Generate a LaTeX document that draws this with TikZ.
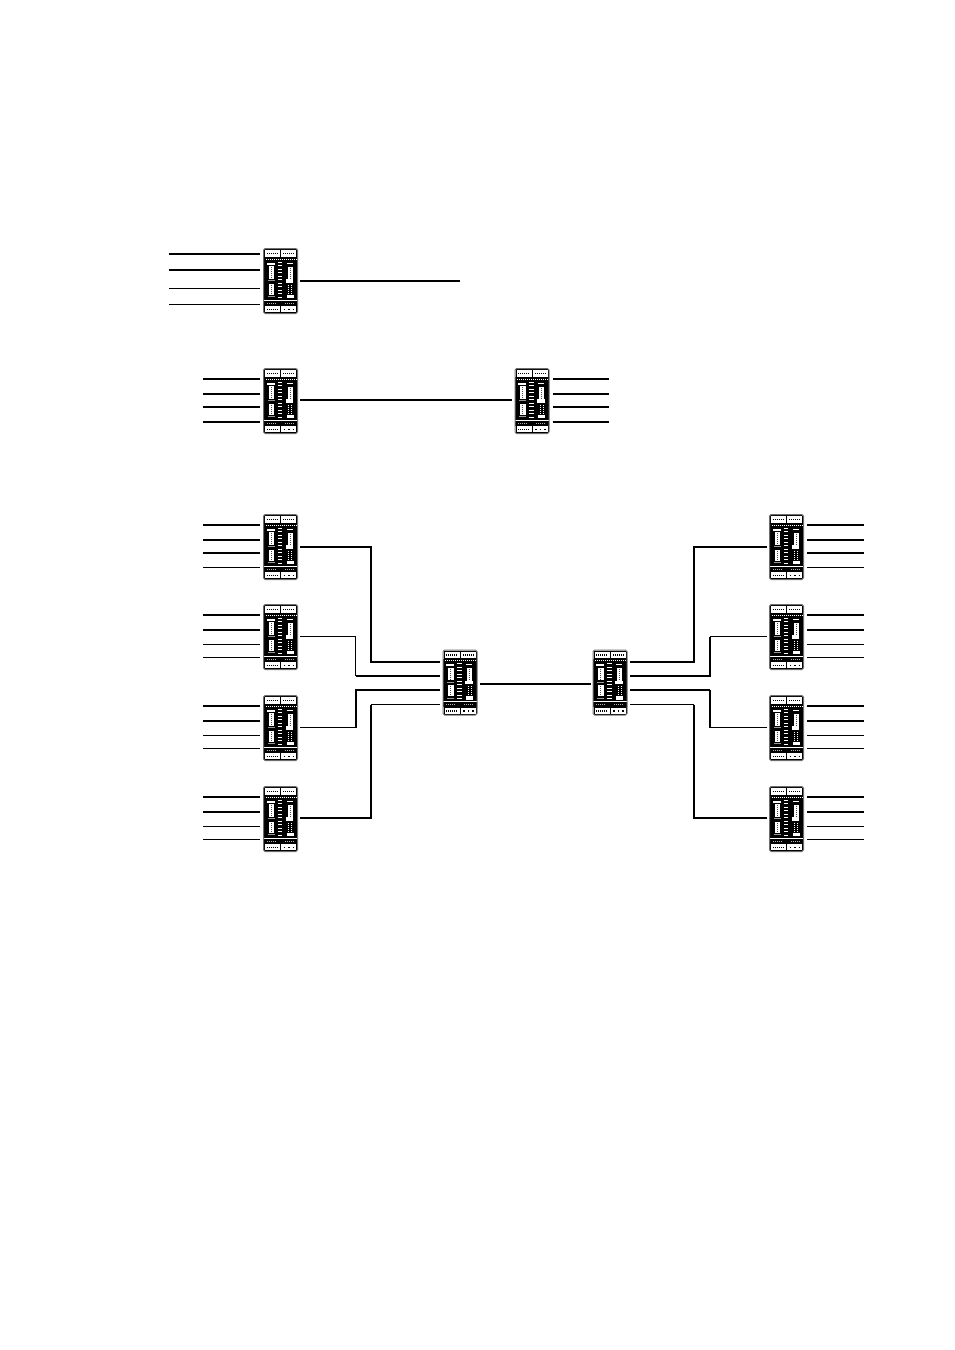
\documentclass[tikz,border=0pt]{standalone}
\usetikzlibrary{positioning,calc}
\definecolor{unitGray}{RGB}{110,110,110}
\tikzset{
    wire/.style={line width=2pt, color=black, line join=miter},
    fine/.style={line width=1.1pt, color=black, line join=miter},
    gapped/.style={shorten <=2.5pt},
    dots/.style={line width=1pt, dash pattern=on 1pt off 1pt},
    plate/.style={draw=black, line width=.7pt, fill=white},
    unitface/.pic={
      \begin{scope}[sharp corners]
      % top and bottom label plates
      \fill[black] (0,8.5) rectangle (35,51);
      \fill[black] (0,52) rectangle (35,57);
      \path[plate] (1,1) rectangle (17,8.5);
      \path[plate] (17,1) rectangle (33,8.5);
      \path[plate] (1,57) rectangle (17,64);
      \path[plate] (17,57) rectangle (33,64);
      \draw[dots,black,line width=1.4pt] (3,5) -- (15,5);
      \draw[dots,black,line width=1.4pt] (19.5,5) -- (31.5,5);
      \draw[dots,black,line width=1.8pt] (3,61) -- (15,61);
      \draw[dots,black,line width=1.8pt,dash pattern=on 1.5pt off 3pt] (20,61) -- (32,61);
      \draw[dots,white] (2,10.5) -- (33,10.5);
      \draw[dots,white!70!black] (3,54.5) -- (13,54.5);
      \draw[dots,white!70!black] (21,54.5) -- (31,54.5);
      % left connectors
      \fill[white] (3,14) rectangle (11,16);
      \fill[white] (5,17.5) rectangle (10.5,30);
      \fill[white] (5,35) rectangle (10.5,46);
      \draw[dots,black!70] (7.7,18.5) -- (7.7,29.5);
      \draw[dots,black!70] (7.7,36) -- (7.7,45.5);
      \fill[white!60!black] (4,31.5) rectangle (11,32.5);
      \fill[white!60!black] (4,47.5) rectangle (11,48.5);
      % status lamps
      \foreach \l in {13,16.5,...,48}
        \fill[white] (14,\l) rectangle (18.5,\l+1);
      % right connectors
      \fill[white] (23,14) rectangle (29,15);
      \fill[white] (24,18) rectangle (29,30.5);
      \draw[dots,black!70] (26.5,19) -- (26.5,30);
      \fill[white] (22,30.5) rectangle (29.5,34);
      \draw[dots,white] (25,36) -- (25,45);
      \draw[dots,white] (28,36) -- (28,45);
      \fill[white] (23,46) rectangle (30,49.5);
      \end{scope}
    },
    unit/.style={rectangle, rounded corners=1.5pt, draw=unitGray, line width=1pt,
                 fill=white, inner sep=0pt, outer sep=0pt,
                 minimum width=34pt, minimum height=65pt,
                 path picture={
                   \pic at (path picture bounding box.north west) {unitface};
                 }}
}
\begin{document}
\begin{tikzpicture}[x=1pt,y=-1pt]
  \useasboundingbox (0,0) rectangle (954,1350);

  % Single unit
  \node[unit] (s1) at (280.5,281) {};
  \coordinate (s1end) at (460,281);

  % Point to point
  \node[unit, below=55pt of s1] (p1) {};
  \node[unit, right=217.5pt of p1] (p2) {};

  % Left column
  \node[unit, below=81pt of p1] (a1) {};
  \node[unit, below=25pt of a1] (a2) {};
  \node[unit, below=26pt of a2] (a3) {};
  \node[unit, below=26pt of a3] (a4) {};

  % Right column
  \node[unit, right=472pt of a1] (b1) {};
  \node[unit, below=25pt of b1] (b2) {};
  \node[unit, below=26pt of b2] (b3) {};
  \node[unit, below=26pt of b3] (b4) {};

  % Centre pair
  \node[unit] (c1) at (460,682.5) {};
  \node[unit, right=116pt of c1] (c2) {};

  % Input lines
  \foreach \n/\dy/\kind in {1/5.5/wire,2/21.5/wire,3/40/fine,4/56/fine}{
    \coordinate (s1s\n) at ($(s1.north west)+(-94.5,\dy)$);
    \draw[\kind,shorten <=3.5pt] ($(s1.north west)+(0,\dy)$) -- (s1s\n);
  }
  \foreach \u/\t/\f/\d in {p1/wire/wire/38.5,a1/wire/fine/38.5,a2/fine/fine/40,a3/fine/fine/40,a4/fine/fine/40}{
    \foreach \n/\dy/\kind in {1/10.5/wire,2/25.5/wire,3/\d/\t,4/53/\f}{
      \coordinate (\u s\n) at ($(\u.north west)+(-60.5,\dy)$);
      \draw[\kind,shorten <=3.5pt] ($(\u.north west)+(0,\dy)$) -- (\u s\n);
    }
  }
  \foreach \u/\t/\f/\d in {p2/wire/wire/38.5,b1/wire/fine/38.5,b2/fine/fine/40,b3/fine/fine/40,b4/fine/fine/40}{
    \foreach \n/\dy/\kind in {1/10.5/wire,2/25.5/wire,3/\d/\t,4/53/\f}{
      \coordinate (\u s\n) at ($(\u.north east)+(60,\dy)$);
      \draw[\kind,shorten <=3.5pt] ($(\u.north east)+(0,\dy)$) -- (\u s\n);
    }
  }

  % Trunk lines
  \draw[wire,gapped] (s1.east) -- (s1end);
  \draw[wire,gapped,shorten >=3pt] ($(p1.east)+(0,-1)$) -- ($(p2.west)+(0,-1)$);
  \draw[wire,gapped,shorten >=2.5pt] ($(c1.east)+(0,1.5)$) -- ($(c2.west)+(0,1.5)$);

  % Ports of the centre pair
  \foreach \n/\dy in {1/12,2/26,3/40,4/54.5}{
    \coordinate (c1p\n) at ($(c1.north west)+(-3,\dy)$);
    \coordinate (c2p\n) at ($(c2.north east)+(3,\dy)$);
  }
  \coordinate (lo) at (371,0);
  \coordinate (li) at (355.5,0);
  \coordinate (ro) at (694,0);
  \coordinate (ri) at (710,0);
  \coordinate (a2e) at ($(a2.east)+(0,-0.5)$);
  \coordinate (a3e) at ($(a3.east)+(0,-0.5)$);
  \coordinate (a4e) at ($(a4.east)+(0,-1)$);
  \coordinate (b2w) at ($(b2.west)+(0,-0.5)$);
  \coordinate (b3w) at ($(b3.west)+(0,-0.5)$);
  \coordinate (b4w) at ($(b4.west)+(0,-1)$);

  % Left branches
  \draw[wire,gapped] (a1.east) -| (lo |- c1p1) -- (c1p1);
  \draw[fine,gapped] (a2e) -| (li |- c1p2);
  \draw[wire] (li |- c1p2) -- (c1p2);
  \draw[fine,gapped] (a3e) -- (li |- a3e);
  \draw[wire] (li |- a3e) -- (li |- c1p3) -- (c1p3);
  \draw[wire,gapped] (a4e) -| (lo |- c1p4);
  \draw[fine] (lo |- c1p4) -- (c1p4);

  % Right branches
  \draw[wire,gapped] (b1.west) -| (ro |- c2p1) -- (c2p1);
  \draw[fine,gapped] (b2w) -- (ri |- b2w);
  \draw[wire] (ri |- b2w) -- (ri |- c2p2) -- (c2p2);
  \draw[fine,gapped] (b3w) -| (ri |- c2p3);
  \draw[wire] (ri |- c2p3) -- (c2p3);
  \draw[wire,gapped] (b4w) -| (ro |- c2p4);
  \draw[fine] (ro |- c2p4) -- (c2p4);
\end{tikzpicture}
\end{document}
